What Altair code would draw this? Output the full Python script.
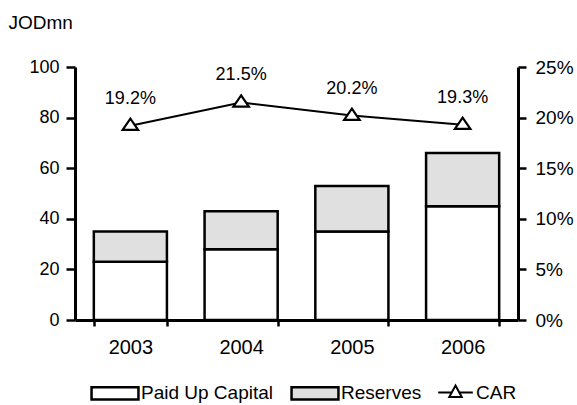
import altair as alt
import pandas as pd

# Capital base (JOD millions) and capital adequacy ratio (%)
years = ["2003", "2004", "2005", "2006"]
paid_up = [23, 28, 35, 45]
reserves = [12, 15, 18, 21]
car = [19.2, 21.5, 20.2, 19.3]

components = ["Paid Up Capital", "Reserves"]
FONT = "Liberation Sans"

bars_df = pd.DataFrame(
    [{"year": y, "component": components[0], "value": p, "order": 0} for y, p in zip(years, paid_up)]
    + [{"year": y, "component": components[1], "value": r, "order": 1} for y, r in zip(years, reserves)]
)
car_df = pd.DataFrame({"year": years, "car": car, "series": ["CAR"] * len(years)})

x_enc = alt.X(
    "year:N",
    sort=years,
    scale=alt.Scale(paddingInner=0.34, paddingOuter=0.17),
    axis=alt.Axis(
        title=None, labelAngle=0, tickBand="extent", tickSize=6, tickWidth=2.5,
        domainWidth=3, domainColor="black", tickColor="black",
        labelFontSize=20, labelFont=FONT, labelColor="black", labelPadding=11,
    ),
)

rect_path = "M-1,-0.26H1V0.26H-1Z"
car_symbol = "M-1,0H-0.25M0.25,0H1M0,-0.4L0.36,0.26H-0.36Z"
tri_path = "M0,-0.9L1,0.55H-1Z"

bars = alt.Chart(bars_df).mark_bar(stroke="black", strokeWidth=2.5).encode(
    x=x_enc,
    y=alt.Y(
        "value:Q",
        stack="zero",
        scale=alt.Scale(domain=[0, 100], nice=False),
        axis=alt.Axis(
            values=[0, 20, 40, 60, 80, 100], grid=False, tickSize=9, tickWidth=2.5,
            domainWidth=3, domainColor="black", tickColor="black",
            labelFontSize=18, labelFont=FONT, labelColor="black", labelPadding=7,
            title="JODmn", titleAngle=0, titleAlign="left", titleBaseline="middle",
            titleX=-67, titleY=-45, titleFont=FONT, titleFontSize=19,
            titleFontWeight="normal", titleColor="black",
        ),
    ),
    fill=alt.Fill(
        "component:N",
        scale=alt.Scale(domain=components, range=["#ffffff", "#e0e0e0"]),
        legend=alt.Legend(
            title=None, orient="none", legendX=15, legendY=301, direction="horizontal",
            symbolType=rect_path, symbolSize=2200, symbolStrokeColor="black",
            symbolStrokeWidth=2.5, labelFontSize=19, labelFont=FONT, labelColor="black",
            labelOffset=1, columnPadding=12,
        ),
    ),
    order=alt.Order("order:Q"),
)

y_right = alt.Y(
    "car:Q",
    scale=alt.Scale(domain=[0, 25], nice=False),
    axis=alt.Axis(
        orient="right", values=[0, 5, 10, 15, 20, 25], labelExpr="datum.value + '%'",
        grid=False, tickSize=8, tickWidth=2.5, domainWidth=3, domainColor="black",
        tickColor="black", labelFontSize=19, labelFont=FONT, labelColor="black",
        labelPadding=9, title=None,
    ),
)

line = alt.Chart(car_df).mark_line(strokeWidth=2).encode(
    x=alt.X("year:N", sort=years),
    y=y_right,
    stroke=alt.Stroke(
        "series:N",
        scale=alt.Scale(domain=["CAR"], range=["black"]),
        legend=alt.Legend(
            title=None, orient="none", legendX=362, legendY=307,
            symbolType=car_symbol, symbolSize=1200, symbolFillColor="white",
            symbolStrokeColor="black", symbolStrokeWidth=2,
            labelFontSize=19, labelFont=FONT, labelColor="black", labelOffset=2,
        ),
    ),
)

points = alt.Chart(car_df).mark_point(
    shape=tri_path, filled=True, fill="white", stroke="black", strokeWidth=2.2,
    size=240, opacity=1,
).encode(x=alt.X("year:N", sort=years), y=alt.Y("car:Q"))

labels = alt.Chart(car_df).transform_calculate(
    label="format(datum.car, '.1f') + '%'"
).mark_text(
    dy=-27, fontSize=18, font=FONT, color="black", baseline="middle"
).encode(
    x=alt.X("year:N", sort=years),
    y=alt.Y("car:Q"),
    text="label:N",
)

car_layer = alt.layer(line, points, labels)

chart = (
    alt.layer(bars, car_layer)
    .resolve_scale(y="independent", fill="independent", stroke="independent")
    .properties(
        width=443, height=253,
        autosize=alt.AutoSizeParams(type="none"),
        padding={"left": 75, "top": 67, "right": 59, "bottom": 85},
        background="white",
    )
    .configure_view(stroke=None)
)

chart.save("out.html", embed_options={"renderer": "svg", "actions": False})
